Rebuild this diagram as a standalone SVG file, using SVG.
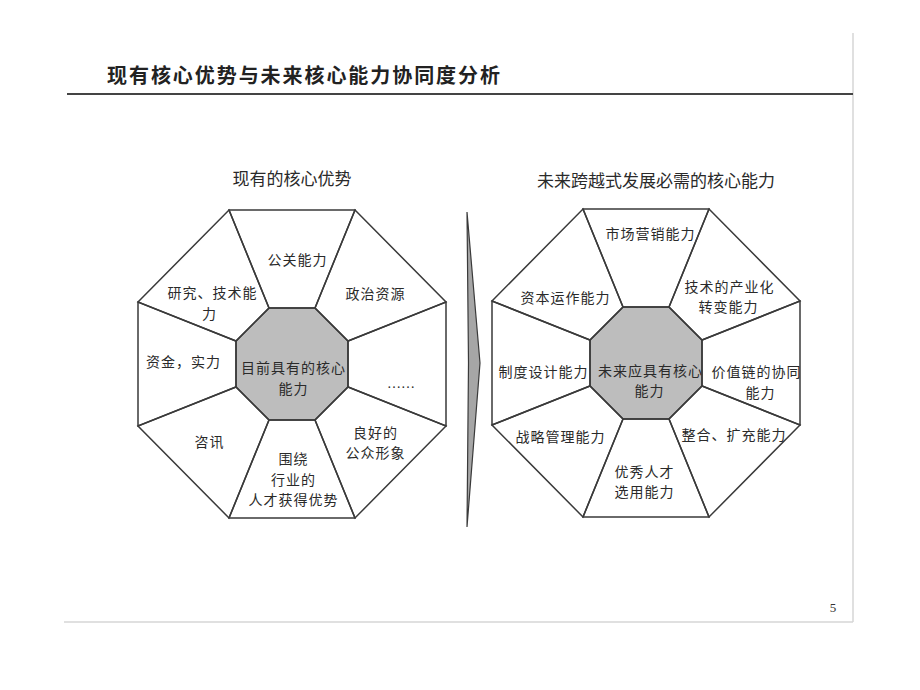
<svg xmlns="http://www.w3.org/2000/svg" width="920" height="690" viewBox="0 0 920 690">
<style>
.seg{fill:none;stroke:#3a3a3a;stroke-width:1.5;stroke-linejoin:miter}
.core{fill:#bdbdbd;stroke:#3a3a3a;stroke-width:1.5}
.lbl{font-family:"Noto Sans CJK SC","Noto Sans CJK JP",sans-serif;font-size:14px;letter-spacing:1px;fill:#2a2a2a;text-anchor:middle}
.sub{font-family:"Noto Sans CJK SC","Noto Sans CJK JP",sans-serif;font-size:17px;fill:#2a2a2a;text-anchor:middle}
.frame{stroke:#d6d6d6;stroke-width:1.5;fill:none}
</style>
<rect x="0" y="0" width="920" height="690" fill="#ffffff"/>
<g id="page-frame">
<line class="frame" x1="853" y1="33" x2="853" y2="622"/>
<line class="frame" x1="64" y1="622" x2="853" y2="622"/>
<line x1="67" y1="94" x2="853" y2="94" stroke="#444" stroke-width="2"/>
</g>
<text id="title" x="107" y="83" font-family="'Noto Sans CJK SC','Noto Sans CJK JP',sans-serif" font-size="20" font-weight="bold" fill="#222" textLength="393" lengthAdjust="spacing">现有核心优势与未来核心能力协同度分析</text>
<text id="page-number" x="833" y="612" font-family="'Liberation Serif',serif" font-size="13" fill="#333" text-anchor="middle">5</text>

<text id="left-heading" class="sub" x="292" y="185">现有的核心优势</text>
<text id="right-heading" class="sub" x="656" y="187">未来跨越式发展必需的核心能力</text>

<!-- Left octagon -->
<g id="left-core">
<polygon class="core" points="269,308 315,308 348,341 348,387 315,420 269,420 236,387 236,341"/>
<text class="lbl"><tspan x="293.5" y="373.4">目前具有的核心</tspan><tspan x="293.5" y="393.9">能力</tspan></text>
</g>
<g id="left-top">
<polygon class="seg" points="229,210 355,210 315,308 269,308"/>
<text class="lbl" x="297.5" y="265.3">公关能力</text>
</g>
<g id="left-top-right">
<polygon class="seg" points="355,210 446,302 348,341 315,308"/>
<text class="lbl" x="375.5" y="299.3">政治资源</text>
</g>
<g id="left-right">
<polygon class="seg" points="446,302 446,426 348,387 348,341"/>
<text x="401" y="388" font-family="'Liberation Serif',serif" font-size="14" fill="#2a2a2a" text-anchor="middle">……</text>
</g>
<g id="left-bottom-right">
<polygon class="seg" points="446,426 355,518 315,420 348,387"/>
<text class="lbl"><tspan x="375.5" y="437.5">良好的</tspan><tspan x="375.5" y="458">公众形象</tspan></text>
</g>
<g id="left-bottom">
<polygon class="seg" points="355,518 229,518 269,420 315,420"/>
<text class="lbl"><tspan x="293.5" y="464.4">围绕</tspan><tspan x="293.5" y="484.9">行业的</tspan><tspan x="293.5" y="505.4">人才获得优势</tspan></text>
</g>
<g id="left-bottom-left">
<polygon class="seg" points="229,518 138,426 236,387 269,420"/>
<text class="lbl" x="209.5" y="447">咨讯</text>
</g>
<g id="left-left">
<polygon class="seg" points="138,426 138,302 236,341 236,387"/>
<text class="lbl" x="183.5" y="367">资金，实力</text>
</g>
<g id="left-top-left">
<polygon class="seg" points="138,302 229,210 269,308 236,341"/>
<text class="lbl"><tspan x="212.5" y="298.2">研究、技术能</tspan><tspan x="209.5" y="318.7">力</tspan></text>
</g>

<!-- Arrow -->
<g id="connectors">
<polygon points="467,212 480,363 467,527 468.5,363" fill="#a6a6a6" stroke="#3a3a3a" stroke-width="1.2" stroke-linejoin="miter"/>
</g>

<!-- Right octagon -->
<g id="right-core">
<polygon class="core" points="623,307 669,307 702,340 702,386 669,419 623,419 590,386 590,340"/>
<text class="lbl"><tspan x="650.5" y="375.9">未来应具有核心</tspan><tspan x="649.5" y="396.4">能力</tspan></text>
</g>
<g id="right-top">
<polygon class="seg" points="583,209 709,209 669,307 623,307"/>
<text class="lbl" x="650.5" y="239.3">市场营销能力</text>
</g>
<g id="right-top-right">
<polygon class="seg" points="709,209 800,301 702,340 669,307"/>
<text class="lbl"><tspan x="729.5" y="291.5">技术的产业化</tspan><tspan x="728.5" y="312">转变能力</tspan></text>
</g>
<g id="right-right">
<polygon class="seg" points="800,301 800,425 702,386 702,340"/>
<text class="lbl"><tspan x="756.5" y="377.4">价值链的协同</tspan><tspan x="760.5" y="397.9">能力</tspan></text>
</g>
<g id="right-bottom-right">
<polygon class="seg" points="800,425 709,517 669,419 702,386"/>
<text class="lbl" x="734" y="440.3">整合、扩充能力</text>
</g>
<g id="right-bottom">
<polygon class="seg" points="709,517 583,517 623,419 669,419"/>
<text class="lbl"><tspan x="644.5" y="476.7">优秀人才</tspan><tspan x="644.5" y="497.2">选用能力</tspan></text>
</g>
<g id="right-bottom-left">
<polygon class="seg" points="583,517 492,425 590,386 623,419"/>
<text class="lbl" x="560.5" y="442">战略管理能力</text>
</g>
<g id="right-left">
<polygon class="seg" points="492,425 492,301 590,340 590,386"/>
<text class="lbl" x="543.5" y="377">制度设计能力</text>
</g>
<g id="right-top-left">
<polygon class="seg" points="492,301 583,209 623,307 590,340"/>
<text class="lbl" x="565.5" y="302.6">资本运作能力</text>
</g>
</svg>
